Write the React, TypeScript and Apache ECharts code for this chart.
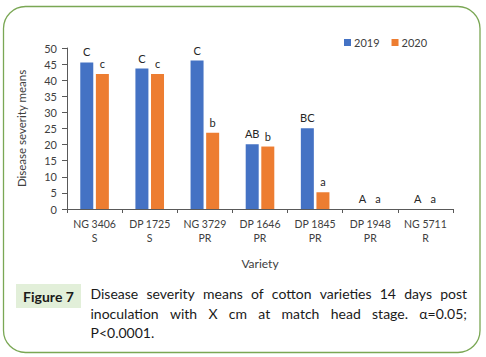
import React, { useEffect, useRef } from "react";
import * as echarts from "echarts";

const categories = ["NG 3406\nS", "DP 1725\nS", "NG 3729\nPR", "DP 1646\nPR", "DP 1845\nPR", "DP 1948\nPR", "NG 5711\nR"];
const values2019 = [45.5, 43.6, 46.1, 20.1, 25.1, 0, 0];
const values2020 = [41.9, 41.9, 23.7, 19.4, 5.2, 0, 0];
const letters2019 = ["C", "C", "C", "AB", "BC", "A", "A"];
const letters2020 = ["c", "c", "b", "b", "a", "a", "a"];
const yTicks = { min: 0, max: 50, interval: 5 };
const captionLines = [
  "Disease severity means of cotton varieties 14 days post",
  "inoculation with X cm at match head stage. \u03b1=0.05;",
  "P<0.0001.",
];
const figureLabel = "Figure 7";

const FONT = "Lato, 'Open Sans', sans-serif";

function captionGraphics(): any[] {
  const ctx = document.createElement("canvas").getContext("2d")!;
  const size = 14;
  ctx.font = `${size}px Lato`;
  const x0 = 90.5;
  const x1 = 467;
  const ys = [293.5, 313, 332.5];
  const out: any[] = [];
  captionLines.forEach((line, i) => {
    const words = line.split(" ");
    const justify = i < captionLines.length - 1;
    const widths = words.map((w) => ctx.measureText(w).width);
    const total = widths.reduce((a, b) => a + b, 0);
    const space = justify && words.length > 1 ? (x1 - x0 - total) / (words.length - 1) : ctx.measureText(" ").width;
    let x = x0;
    words.forEach((w, j) => {
      out.push({
        type: "text",
        x,
        y: ys[i],
        style: { text: w, fill: "#1a1a1a", font: `${size}px ${FONT}`, textVerticalAlign: "middle", textAlign: "left" },
      });
      x += widths[j] + space;
    });
  });
  return out;
}

export default function App() {
  const ref = useRef<HTMLDivElement>(null);
  useEffect(() => {
    if (!ref.current) return;
    const chart = echarts.init(ref.current, null, { renderer: "svg" });
    const mk = (vals: number[], letters: string[]) =>
      vals.map((v, i) => ({ value: v, label: { formatter: letters[i] } }));
    chart.setOption({
      animation: false,
      backgroundColor: "#ffffff",
      textStyle: { fontFamily: FONT },
      grid: { left: 67, right: 33, top: 48, bottom: 148 },
      legend: {
        data: ["2019", "2020"],
        left: 339,
        top: 32,
        itemWidth: 7,
        itemHeight: 7,
        itemGap: 12,
        icon: "rect",
        textStyle: { fontSize: 11, color: "#404040", fontFamily: FONT, padding: [0, 0, 0, -2] },
      },
      xAxis: {
        type: "category",
        data: categories,
        name: "Variety",
        nameLocation: "middle",
        nameGap: 48,
        nameTextStyle: { fontSize: 12, color: "#404040", fontFamily: FONT },
        axisLine: { lineStyle: { color: "#595959", width: 1 } },
        axisTick: { show: true, length: 4, alignWithLabel: false, lineStyle: { color: "#595959" } },
        axisLabel: { fontSize: 10.5, color: "#404040", margin: 8, lineHeight: 14, interval: 0, fontFamily: FONT },
      },
      yAxis: {
        type: "value",
        min: yTicks.min,
        max: yTicks.max,
        interval: yTicks.interval,
        name: "Disease severity means",
        nameLocation: "middle",
        nameGap: 40,
        nameTextStyle: { fontSize: 11.5, color: "#404040", fontFamily: FONT },
        axisLine: { show: true, lineStyle: { color: "#595959", width: 1 } },
        axisTick: { show: true, length: 5, lineStyle: { color: "#595959" } },
        splitLine: { show: false },
        axisLabel: { fontSize: 11, color: "#404040", margin: 10, fontFamily: FONT },
      },
      series: [
        {
          name: "2019",
          type: "bar",
          data: mk(values2019, letters2019),
          barWidth: 13,
          barGap: "20%",
          itemStyle: { color: "#4472c4" },
          label: { show: true, position: "top", distance: 5, fontSize: 11, color: "#262626", fontFamily: FONT },
        },
        {
          name: "2020",
          type: "bar",
          data: mk(values2020, letters2020),
          barWidth: 13,
          itemStyle: { color: "#ed7d31" },
          label: { show: true, position: "top", distance: 5, fontSize: 11, color: "#262626", fontFamily: FONT },
        },
      ],
      graphic: [
        {
          type: "rect",
          shape: { x: 3.5, y: 6.5, width: 476.5, height: 346, r: 22 },
          style: { fill: "none", stroke: "#7aa754", lineWidth: 1.3 },
          silent: true,
        },
        {
          type: "rect",
          shape: { x: 16, y: 284, width: 65, height: 24 },
          style: { fill: "#e2efd9" },
          silent: true,
        },
        {
          type: "text",
          x: 48.5,
          y: 296,
          style: { text: figureLabel, fill: "#1a1a1a", font: `bold 14px ${FONT}`, textAlign: "center", textVerticalAlign: "middle" },
        },
        ...captionGraphics(),
      ],
    });
    return () => chart.dispose();
  }, []);
  return (
    <div style={{ position: "fixed", left: 0, top: 0, width: 486, height: 357, background: "#fff" }}>
      <div ref={ref} style={{ width: 486, height: 357 }} />
    </div>
  );
}
